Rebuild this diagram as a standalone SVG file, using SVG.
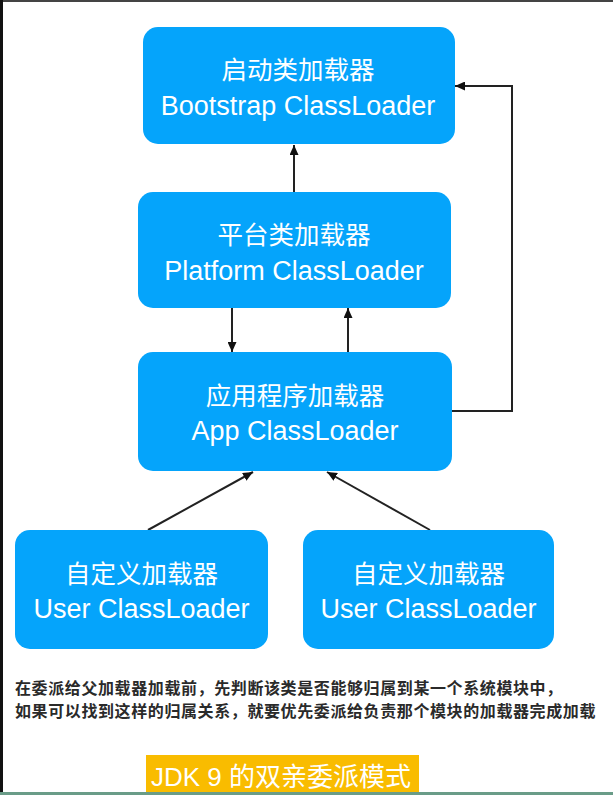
<svg xmlns="http://www.w3.org/2000/svg" width="613" height="795" viewBox="0 0 613 795">
  <style>
    .box { fill: #05A4FB; }
    .cn { font-family: "Noto Sans CJK SC", "Liberation Sans", sans-serif; font-size: 25.5px; fill: #ffffff; text-anchor: middle; }
    .en { font-family: "Liberation Sans", "Noto Sans CJK SC", sans-serif; font-size: 27px; fill: #ffffff; text-anchor: middle; }
    .edge { fill: none; stroke: #222222; stroke-width: 2; }
    .cap { font-family: "Noto Sans CJK SC", sans-serif; font-size: 16px; letter-spacing: 0.6px; font-weight: bold; fill: #2a2a2a; }
    .title { font-family: "Liberation Sans", "Noto Sans CJK SC", sans-serif; font-size: 26px; fill: #ffffff; }
  </style>
  <defs>
    <marker id="arrow" markerUnits="userSpaceOnUse" markerWidth="10" markerHeight="9" refX="10" refY="4.5" orient="auto">
      <path d="M0,0 L10,4.5 L0,9 z" fill="#111111"/>
    </marker>
  </defs>
  <rect x="0" y="0" width="613" height="795" fill="#ffffff"/>
  <rect x="0" y="0" width="613" height="2" fill="#444444"/>
  <rect x="0" y="0" width="3" height="795" fill="#111111"/>
  <rect x="0" y="792" width="613" height="3" fill="#6a9c88"/>

  <g id="connectors">
    <line class="edge" x1="294" y1="192" x2="294" y2="145" marker-end="url(#arrow)"/>
    <line class="edge" x1="232" y1="308" x2="232" y2="352" marker-end="url(#arrow)"/>
    <line class="edge" x1="348" y1="352" x2="348" y2="308" marker-end="url(#arrow)"/>
    <path class="edge" d="M452,411 H512 V86 H455" marker-end="url(#arrow)"/>
    <line class="edge" x1="148" y1="530" x2="253" y2="472" marker-end="url(#arrow)"/>
    <line class="edge" x1="430" y1="530" x2="327" y2="472" marker-end="url(#arrow)"/>
  </g>

  <g id="bootstrap">
    <rect class="box" x="143" y="27" width="312" height="117" rx="15"/>
    <text class="cn" x="298" y="79">启动类加载器</text>
    <text class="en" x="298" y="115">Bootstrap ClassLoader</text>
  </g>
  <g id="platform">
    <rect class="box" x="138" y="192" width="313" height="116" rx="15"/>
    <text class="cn" x="294" y="244">平台类加载器</text>
    <text class="en" x="294" y="280">Platform ClassLoader</text>
  </g>
  <g id="app">
    <rect class="box" x="138" y="352" width="314" height="119" rx="15"/>
    <text class="cn" x="295" y="405">应用程序加载器</text>
    <text class="en" x="295" y="440">App ClassLoader</text>
  </g>
  <g id="user1">
    <rect class="box" x="15" y="530" width="253" height="119" rx="15"/>
    <text class="cn" x="141.5" y="583">自定义加载器</text>
    <text class="en" x="141.5" y="618">User ClassLoader</text>
  </g>
  <g id="user2">
    <rect class="box" x="303" y="530" width="251" height="119" rx="15"/>
    <text class="cn" x="428.5" y="583">自定义加载器</text>
    <text class="en" x="428.5" y="618">User ClassLoader</text>
  </g>

  <g id="caption">
    <text class="cap" x="15" y="694">在委派给父加载器加载前，先判断该类是否能够归属到某一个系统模块中，</text>
    <text class="cap" x="15" y="717">如果可以找到这样的归属关系，就要优先委派给负责那个模块的加载器完成加载</text>
  </g>

  <g id="title">
    <rect x="146" y="755" width="273" height="37" fill="#F9BC00"/>
    <text class="title" x="151" y="786">JDK 9 的双亲委派模式</text>
  </g>
</svg>
